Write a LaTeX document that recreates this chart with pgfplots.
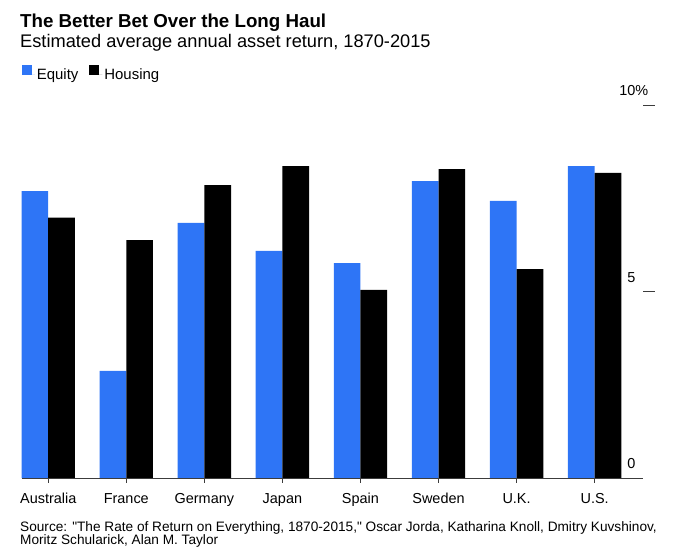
\documentclass[border=0pt]{standalone}
\usepackage{fontspec}
\setmainfont{Liberation Sans}
\newfontfamily\plainfont{Liberation Sans}
\usepackage{pgfplots}
\pgfplotsset{compat=1.18}
\definecolor{eqblue}{RGB}{46, 117, 246}
\definecolor{axgray}{RGB}{60, 60, 60}

\begin{document}
\begin{tikzpicture}[x=1bp, y=1bp]
  \path[use as bounding box] (0,0) rectangle (680,557);

  % titles
  \node[anchor=base west, inner sep=0, font=\fontsize{18.8}{22}\selectfont\bfseries] at (20,529.7) {The Better Bet Over the Long Haul};
  \node[anchor=base west, inner sep=0, font=\fontsize{18.3}{22}\selectfont] at (20,509.3) {Estimated average annual asset return, 1870-2015};

  \begin{axis}[
    at={(21.7bp,79bp)}, anchor=south west,
    scale only axis,
    width=621.3bp, height=373bp,
    xmin=-0.34, xmax=7.62,
    ymin=0, ymax=10,
    clip=false,
    axis x line*=bottom,
    axis y line*=right,
    y axis line style={draw=none},
    x axis line style={axgray, line width=0.8pt, -},
    xtick={0,...,7},
    xticklabels={Australia, France, Germany, Japan, Spain, Sweden, U.K., U.S.},
    xticklabel style={font=\fontsize{14.5}{16}\selectfont, yshift=-7bp},
    xtick style={axgray, line width=0.8pt},
    xtick align=outside,
    major tick length=5bp,
    ytick={0,5,10},
    yticklabels={0,5,{10\rlap{\%}}},
    ytick style={draw=none},
    yticklabel style={font=\fontsize{14.5}{16}\selectfont, anchor=base east, xshift=-4bp, yshift=9bp},
    ybar, bar width=26.7bp,
    legend columns=2,
    legend style={draw=none, fill=none, at={(0,1)}, anchor=south west,
      xshift=-3bp, yshift=20bp, font=\fontsize{15}{17}\selectfont,
      /tikz/every even column/.append style={column sep=9bp}},
    legend image code/.code={\fill[#1] (0bp,-0.5bp) rectangle (10bp,9.5bp); \path (0bp,0bp) -- (13bp,0bp);},
  ]
    \addplot[fill=eqblue, draw=none, bar shift=-13.35bp] coordinates {
      (0,7.69) (1,2.87) (2,6.84) (3,6.09) (4,5.76) (5,7.96) (6,7.43) (7,8.36)
    };
    \addlegendentry{Equity}
    \addplot[fill=black, draw=none, bar shift=13.35bp] coordinates {
      (0,6.98) (1,6.38) (2,7.85) (3,8.36) (4,5.04) (5,8.28) (6,5.60) (7,8.18)
    };
    \addlegendentry{Housing}

    % short gridline ticks at the right
    \draw[axgray, line width=0.8pt] (axis cs:7.62,5) -- ++(-15bp,0);
    \draw[axgray, line width=0.8pt] (axis cs:7.62,10) -- ++(-15bp,0);
  \end{axis}

  % source (plain font keeps the straight quotes)
  \node[anchor=base west, inner sep=0, align=left, font=\plainfont\fontsize{13.7}{12.7}\selectfont] at (20,12)
    {Source: "The Rate of Return on Everything, 1870-2015," Oscar Jorda, Katharina Knoll, Dmitry Kuvshinov,\\Moritz Schularick, Alan M. Taylor};
\end{tikzpicture}
\end{document}
